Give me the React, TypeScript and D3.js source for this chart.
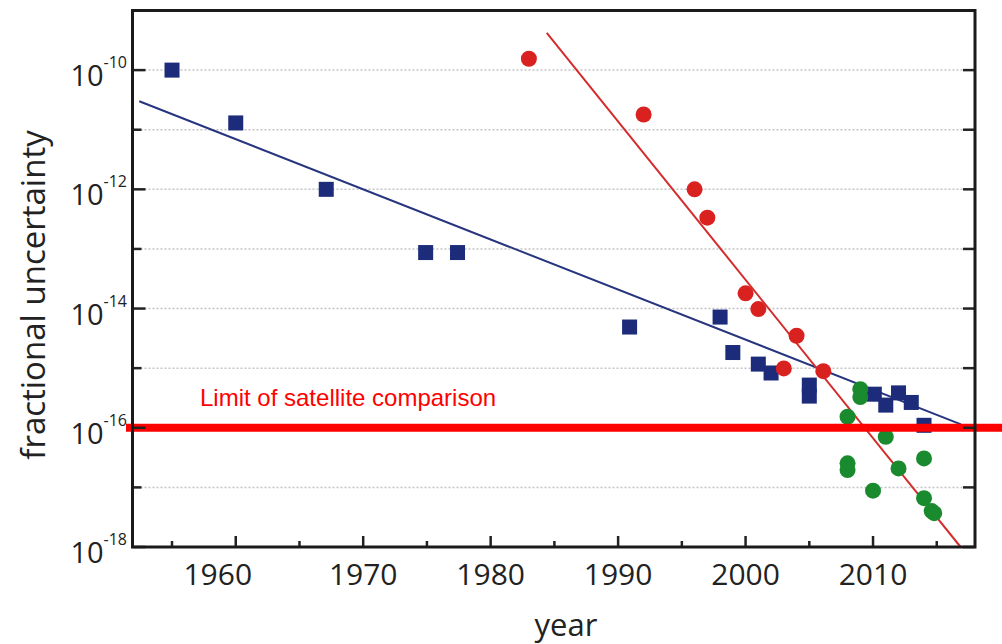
import * as d3 from "d3";

// data
const blueYears = [1955, 1960, 1967.1, 1974.9, 1977.4, 1990.9, 1998, 1999, 2001, 2002, 2005, 2005, 2010.1, 2011, 2012, 2013, 2014];
const blueValues = [1e-10, 1.3e-11, 1e-12, 8.7e-14, 8.7e-14, 4.9e-15, 7.2e-15, 1.83e-15, 1.17e-15, 8.3e-16, 5.2e-16, 3.4e-16, 3.66e-16, 2.4e-16, 3.85e-16, 2.66e-16, 1.1e-16];

const redYears = [1983, 1992, 1996, 1997, 2000, 2001, 2003, 2004, 2006.1];
const redValues = [1.55e-10, 1.8e-11, 1e-12, 3.35e-13, 1.8e-14, 9.8e-15, 9.9e-16, 3.5e-15, 8.9e-16];

const greenYears = [2009, 2009, 2008, 2011, 2008, 2008, 2014, 2012, 2010, 2014, 2014.6, 2014.8];
const greenValues = [4.45e-16, 3.27e-16, 1.53e-16, 7.05e-17, 2.53e-17, 1.95e-17, 3.06e-17, 2.08e-17, 8.8e-18, 6.6e-18, 4.0e-18, 3.7e-18];

// fitted trend lines (end points)
const blueFitYears = [1952.43, 2016.9];
const blueFitValues = [3.0e-11, 1.14e-16];
const redFitYears = [1984.4, 2016.87];
const redFitValues = [4.23e-10, 1e-18];

const satelliteLimit = 1e-16;
const satelliteLabel = "Limit of satellite comparison";

const xMajorTicks = [1960, 1970, 1980, 1990, 2000, 2010];
const xMinorTicks = [1955, 1965, 1975, 1985, 1995, 2005, 2015];
const yMajorExp = [-10, -12, -14, -16, -18];
const yMinorExp = [-11, -13, -15, -17];
const gridExp = [-10, -11, -12, -13, -14, -15, -16, -17];

const W = 1002;
const H = 644;
const left = 132.5, right = 975, top = 10.5, bottom = 547;

export default function App() {
  const x = d3.scaleLinear().domain([1951.9, 2018]).range([left, right]);
  const y = d3.scaleLog().domain([1e-18, 1e-9]).range([bottom, top]);

  const line = d3
    .line<[number, number]>()
    .x((d) => x(d[0]))
    .y((d) => y(d[1]));

  const blueFit = blueFitYears.map((yr, i) => [yr, blueFitValues[i]] as [number, number]);
  const redFit = redFitYears.map((yr, i) => [yr, redFitValues[i]] as [number, number]);

  const sq = 15;
  const axisFont = "'Open Sans', 'DejaVu Sans', sans-serif";

  return (
    <svg
      width={W}
      height={H}
      style={{ position: "absolute", left: 0, top: 0, background: "#fff" }}
    >
      {/* grid */}
      {gridExp.map((e) => (
        <line
          key={"g" + e}
          x1={left}
          x2={right}
          y1={y(Math.pow(10, e))}
          y2={y(Math.pow(10, e))}
          stroke="#c4c4c4"
          strokeWidth={1.5}
          strokeDasharray="2,2"
        />
      ))}

      {/* trend lines */}
      <path d={line(blueFit) || ""} fill="none" stroke="#27357f" strokeWidth={2} />

      {/* blue squares */}
      {blueYears.map((yr, i) => (
        <rect
          key={"b" + i}
          x={x(yr) - sq / 2}
          y={y(blueValues[i]) - sq / 2}
          width={sq}
          height={sq}
          fill="#1c2b7a"
        />
      ))}

      <path d={line(redFit) || ""} fill="none" stroke="#d42b2b" strokeWidth={2} />

      {/* red circles */}
      {redYears.map((yr, i) => (
        <circle key={"r" + i} cx={x(yr)} cy={y(redValues[i])} r={8} fill="#d9211f" />
      ))}

      {/* green circles */}
      {greenYears.map((yr, i) => (
        <circle key={"gr" + i} cx={x(yr)} cy={y(greenValues[i])} r={8} fill="#1a8a2e" />
      ))}

      {/* satellite limit */}
      <line
        x1={126}
        x2={W}
        y1={y(satelliteLimit)}
        y2={y(satelliteLimit)}
        stroke="#ff0000"
        strokeWidth={8}
      />
      <text
        x={200}
        y={406}
        fill="#ff0000"
        fontFamily="'Liberation Sans', Arial, sans-serif"
        fontSize={24}
      >
        {satelliteLabel}
      </text>

      {/* y ticks */}
      {yMajorExp.map((e) => {
        const yy = y(Math.pow(10, e));
        return (
          <g key={"ym" + e}>
            <line x1={left} x2={left + 13} y1={yy} y2={yy} stroke="#222" strokeWidth={2.5} />
            <line x1={right - 12} x2={right} y1={yy} y2={yy} stroke="#222" strokeWidth={2.5} />
            <text
              x={127}
              y={yy + 16}
              textAnchor="end"
              fontFamily={axisFont}
              fontSize={29}
              fill="#222"
            >
              <tspan>10</tspan>
              <tspan dy={-18} fontSize={16}>
                {"-" + Math.abs(e)}
              </tspan>
            </text>
          </g>
        );
      })}
      {yMinorExp.map((e) => {
        const yy = y(Math.pow(10, e));
        return (
          <g key={"yn" + e}>
            <line x1={left} x2={left + 9} y1={yy} y2={yy} stroke="#222" strokeWidth={2.5} />
            <line x1={right - 12} x2={right} y1={yy} y2={yy} stroke="#222" strokeWidth={2.5} />
          </g>
        );
      })}

      {/* x ticks */}
      {xMajorTicks.map((t) => (
        <g key={"xm" + t}>
          <line x1={x(t)} x2={x(t)} y1={bottom} y2={bottom - 11} stroke="#222" strokeWidth={2.5} />
          <text
            x={x(t) + (t === 1960 ? -18 : 0)}
            y={585}
            textAnchor="middle"
            fontFamily={axisFont}
            fontSize={30}
            fill="#222"
          >
            {t}
          </text>
        </g>
      ))}
      {xMinorTicks.map((t) => (
        <line
          key={"xn" + t}
          x1={x(t)}
          x2={x(t)}
          y1={bottom}
          y2={bottom - 6}
          stroke="#222"
          strokeWidth={2.5}
        />
      ))}

      {/* frame */}
      <rect
        x={left}
        y={top}
        width={right - left}
        height={bottom - top}
        fill="none"
        stroke="#1a1a1a"
        strokeWidth={3}
      />

      {/* axis titles */}
      <text
        x={566}
        y={636}
        textAnchor="middle"
        fontFamily={axisFont}
        fontSize={31}
        fill="#222"
      >
        year
      </text>
      <text
        transform="translate(45,295) rotate(-90)"
        textAnchor="middle"
        fontFamily={axisFont}
        fontSize={33}
        fill="#222"
      >
        fractional uncertainty
      </text>
    </svg>
  );
}
